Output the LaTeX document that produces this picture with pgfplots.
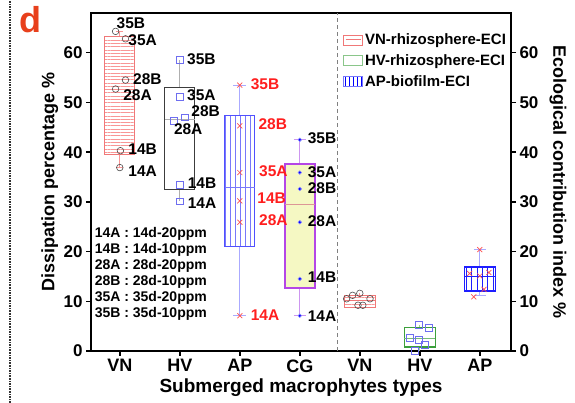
\documentclass[border=0pt]{standalone}
\usepackage{fontspec}
\setmainfont{Liberation Sans}
\usepackage{pgfplots}
\pgfplotsset{compat=1.18}
\usepgfplotslibrary{statistics}
\usetikzlibrary{patterns.meta}

\definecolor{vnred}{RGB}{240,120,120}
\definecolor{vnline}{RGB}{248,150,150}
\definecolor{hvgray}{RGB}{60,60,60}
\definecolor{hvwhisk}{RGB}{175,175,175}
\definecolor{apblue}{RGB}{80,80,255}
\definecolor{aplines}{RGB}{120,120,250}
\definecolor{apwhisk}{RGB}{170,170,255}
\definecolor{cgfill}{RGB}{245,248,195}
\definecolor{cgpurp}{RGB}{180,70,230}
\definecolor{cgwhisk}{RGB}{205,150,240}
\definecolor{cgmed}{RGB}{220,150,150}
\definecolor{sqblue}{RGB}{110,110,240}
\definecolor{xred}{RGB}{255,80,80}
\definecolor{lred}{RGB}{255,30,30}
\definecolor{hvgreen}{RGB}{60,160,60}
\definecolor{dblue}{RGB}{30,30,255}
\definecolor{dred}{RGB}{232,64,28}

\newcommand{\fs}[1]{\fontsize{#1}{#1}\selectfont}

\pgfplotsset{boxplot/draw direction=y}

\pgfplotstableread{
x y lab
-0.055 66.0 35B
0.14 62.5 35A
0.22 54.7 28B
0.055 51.4 28A
0.14 40.6 14B
0.14 36.2 14A
1.12 58.8 35B
1.12 51.4 35A
1.19 48.3 28B
0.90 44.6 28A
1.13 33.7 14B
1.13 29.8 14A
3.13 42.8 35B
3.13 36.0 35A
3.13 32.7 28B
3.13 26.1 28A
3.13 14.9 14B
3.13 7.1 14A
}\blacklabels

\pgfplotstableread{
x y lab
2.18 53.7 35B
2.31 45.7 28B
2.32 36.2 35A
2.29 30.8 14B
2.32 26.3 28A
2.18 7.3 14A
}\redlabels

\begin{document}
\begin{tikzpicture}[x=1pt,y=1pt]
\path[use as bounding box] (0,0) rectangle (575,403);
\draw[densely dotted, line width=1.6pt, gray!40!black] (10,0) -- (10,403);
\node[text=dred, font=\bfseries\fs{36}] at (30,383) {d};

\begin{axis}[
  at={(91pt,52pt)}, anchor=south west,
  scale only axis, width=420pt, height=338pt,
  xmin=-0.48, xmax=6.52, ymin=0, ymax=68,
  xtick={0,1,2,3,4,5,6},
  xticklabels={VN,HV,AP,CG,VN,HV,AP},
  ytick={0,10,20,30,40,50,60},
  xtick pos=bottom, ytick pos=left,
  tick align=outside, major tick length=5pt,
  axis line style={line width=1.6pt},
  tick style={line width=1.4pt, black},
  /pgf/number format/assume math mode=true,
  yticklabel style={font=\bfseries\fs{17}},
  xticklabel style={font=\bfseries\fs{18}},
  xlabel={Submerged macrophytes types},
  ylabel={Dissipation percentage \%},
  every axis y label/.style={at={(axis description cs:-0.098,0.5)}, rotate=90, anchor=center, font=\bfseries\fs{18}},
  every axis x label/.style={at={(axis description cs:0.5,-0.109)}, anchor=center, font=\bfseries\fs{19}},
  clip=false,
]
% separator
\addplot[forget plot, gray, line width=1.2pt, dash pattern=on 4pt off 3pt] coordinates {(3.63,0) (3.63,68)};

% VN box
\addplot[forget plot, boxplot prepared={draw direction=y, lower whisker=36.9, lower quartile=39.5, median=52.7, upper quartile=63.3, upper whisker=64.3, draw position=0, box extend=0.5, whisker extend=0.12},
  boxplot/every box/.style={draw=vnred, line width=0.8pt, pattern={Lines[angle=0,distance=3.3pt,line width=0.6pt]}, pattern color=vnline},
  boxplot/every whisker/.style={vnline, line width=0.8pt},
  boxplot/every median/.style={vnline, line width=0.6pt}] coordinates {};
% HV box
\addplot[forget plot, boxplot prepared={draw direction=y, lower whisker=30.1, lower quartile=32.5, median=46.6, upper quartile=53.0, upper whisker=58.6, draw position=1, box extend=0.5, whisker extend=0},
  boxplot/every box/.style={draw=hvgray, line width=1.3pt},
  boxplot/every whisker/.style={hvwhisk, line width=1.2pt},
  boxplot/every median/.style={hvwhisk, line width=1.2pt}] coordinates {};
% AP box
\addplot[forget plot, boxplot prepared={draw direction=y, lower whisker=7.1, lower quartile=21.1, median=33.0, upper quartile=47.3, upper whisker=53.5, draw position=2, box extend=0.5, whisker extend=0.22},
  boxplot/every box/.style={draw=apblue, line width=1pt, pattern={Lines[angle=90,distance=5pt,line width=0.5pt]}, pattern color=aplines},
  boxplot/every whisker/.style={apwhisk, line width=1pt},
  boxplot/every median/.style={aplines, line width=0.8pt}] coordinates {};
% CG box
\addplot[forget plot, boxplot prepared={draw direction=y, lower whisker=7.1, lower quartile=12.7, median=29.4, upper quartile=37.6, upper whisker=42.5, draw position=3, box extend=0.5, whisker extend=0.2},
  boxplot/every box/.style={draw=cgpurp, fill=cgfill, line width=1.4pt},
  boxplot/every whisker/.style={cgwhisk, line width=1.2pt},
  boxplot/every median/.style={cgmed, line width=1pt}] coordinates {};

% points
\addplot[forget plot, only marks, mark=o, mark size=3.3pt, mark options={draw=gray!60!black, line width=0.6pt}]
  coordinates {(-0.07,64.3) (0.095,62.8) (0.095,54.5) (-0.07,52.7) (0.01,40.3) (0.0,36.9)};
\addplot[forget plot, only marks, mark=square, mark size=3.4pt, mark options={draw=sqblue, line width=0.6pt}]
  coordinates {(1.0,58.6) (1.0,51.2) (1.08,47.0) (0.9,46.3) (1.0,33.5) (1.0,30.1)};
\addplot[forget plot, only marks, mark=x, mark size=3.5pt, mark options={draw=xred, line width=0.7pt}]
  coordinates {(2,53.5) (2,45.3) (2,35.9) (2,30.2) (2,25.9) (2,7.1)};
\addplot[forget plot, only marks, mark=*, mark size=1.8pt, mark options={draw=blue!45, fill=blue, line width=0.6pt}]
  coordinates {(3,42.5) (3,35.9) (3,32.6) (3,25.9) (3,14.5) (3,7.1)};

% labels
\addplot[forget plot, draw=none, mark=none, nodes near coords, point meta=explicit symbolic,
  every node near coord/.append style={anchor=west, inner sep=0pt, font=\bfseries\fs{15.5}, text=black}]
  table[x=x, y=y, meta=lab] {\blacklabels};
\addplot[forget plot, draw=none, mark=none, nodes near coords, point meta=explicit symbolic,
  every node near coord/.append style={anchor=west, inner sep=0pt, font=\bfseries\fs{15.5}, text=lred}]
  table[x=x, y=y, meta=lab] {\redlabels};

\node[anchor=north west, align=left, inner sep=0pt, font=\bfseries\fontsize{14}{16}\selectfont]
  at (axis cs:-0.42,25.0) {14A : 14d-20ppm\\14B : 14d-10ppm\\28A : 28d-20ppm\\28B : 28d-10ppm\\35A : 35d-20ppm\\35B : 35d-10ppm};
\end{axis}

\begin{axis}[
  at={(91pt,52pt)}, anchor=south west,
  scale only axis, width=420pt, height=338pt,
  xmin=-0.48, xmax=6.52, ymin=0, ymax=68,
  axis x line=none, axis y line*=right,
  ytick={0,10,20,30,40,50,60},
  tick align=outside, major tick length=5pt,
  axis line style={line width=1.6pt},
  tick style={line width=1.4pt, black},
  /pgf/number format/assume math mode=true,
  yticklabel style={font=\bfseries\fs{17}},
  ylabel={Ecological contribution index \%},
  every axis y label/.style={at={(axis description cs:1.112,0.5)}, rotate=-90, anchor=center, font=\bfseries\fs{18}},
  legend style={at={(0.6,0.945)}, anchor=north west, draw=none, fill=none,
    font=\bfseries\fs{15}, row sep=4.5pt, inner sep=0pt},
  legend cell align=left,
  clip=false,
]
\addlegendimage{legend image code/.code={\draw[vnred, line width=0.8pt] (0pt,-5pt) rectangle (19pt,5pt); \draw[vnred, line width=1pt] (2pt,0pt) -- (17pt,0pt);}}
\addlegendimage{legend image code/.code={\draw[hvgreen!60, line width=0.9pt] (0pt,-5pt) rectangle (19pt,5pt);}}
\addlegendimage{legend image code/.code={\draw[aplines, line width=0.8pt, pattern={Lines[angle=90,distance=3.8pt,line width=0.8pt]}, pattern color=blue] (0pt,-5pt) rectangle (19pt,5pt);}}
\legend{VN-rhizosphere-ECI, HV-rhizosphere-ECI, AP-biofilm-ECI}

% right VN
\addplot[forget plot, boxplot prepared={draw direction=y, lower whisker=8.8, lower quartile=8.8, median=10.2, upper quartile=11.1, upper whisker=11.6, draw position=4, box extend=0.52, whisker extend=0},
  boxplot/every box/.style={draw=vnred, line width=1pt, pattern={Lines[angle=0,distance=3.3pt,line width=0.6pt]}, pattern color=vnline},
  boxplot/every whisker/.style={vnline, line width=0.8pt},
  boxplot/every median/.style={vnred, line width=0.8pt}] coordinates {};
% right HV
\addplot[forget plot, boxplot prepared={draw direction=y, lower whisker=0.0, lower quartile=0.8, median=2.6, upper quartile=4.8, upper whisker=5.3, draw position=5, box extend=0.52, whisker extend=0},
  boxplot/every box/.style={draw=hvgreen, line width=1.2pt},
  boxplot/every whisker/.style={hvgreen!50, line width=0.8pt},
  boxplot/every median/.style={hvgreen!70, line width=0.8pt}] coordinates {};
% right AP
\addplot[forget plot, boxplot prepared={draw direction=y, lower whisker=11.1, lower quartile=12.1, median=15.0, upper quartile=16.9, upper whisker=20.4, draw position=6, box extend=0.52, whisker extend=0.2},
  boxplot/every box/.style={draw=dblue, line width=1.4pt, pattern={Lines[angle=90,distance=5.3pt,line width=0.7pt]}, pattern color=dblue},
  boxplot/every whisker/.style={apwhisk, line width=1pt},
  boxplot/every median/.style={dblue, line width=0.9pt}] coordinates {};

\addplot[forget plot, only marks, mark=o, mark size=3.3pt, mark options={draw=gray!60!black, line width=0.6pt}]
  coordinates {(3.78,10.5) (3.88,11.2) (4.0,11.6) (4.17,10.5) (4.05,9.2) (3.97,9.2)};
\addplot[forget plot, only marks, mark=square, mark size=3.4pt, mark options={draw=sqblue, line width=0.6pt}]
  coordinates {(4.98,5.3) (5.15,4.7) (4.83,2.7) (4.98,2.2) (5.08,1.2) (4.92,0.0)};
\addplot[forget plot, only marks, mark=x, mark size=3.5pt, mark options={draw=xred, line width=0.7pt}]
  coordinates {(6.0,20.4) (5.83,15.6) (6.0,15.1) (6.15,15.8) (6.07,12.4) (5.9,10.9)};
\end{axis}
\end{tikzpicture}
\end{document}
